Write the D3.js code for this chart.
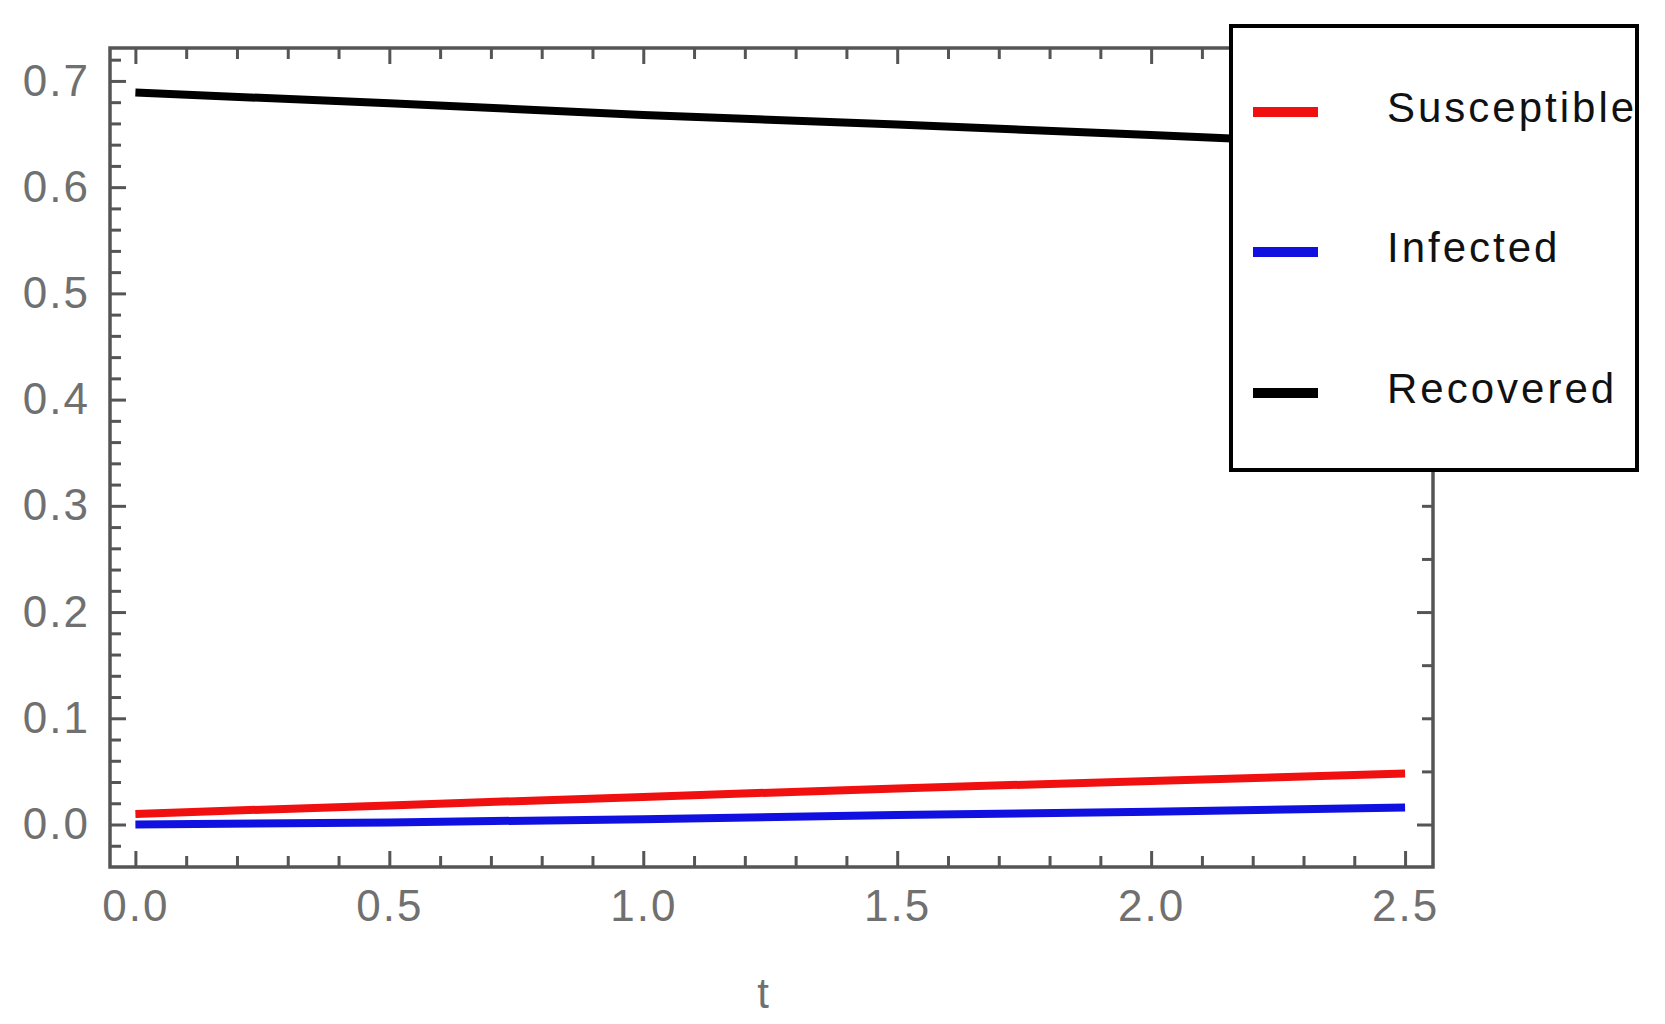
<!DOCTYPE html>
<html>
<head>
<meta charset="utf-8">
<title>SIR</title>
<script src="https://cdn.jsdelivr.net/npm/d3@7"></script>
<style>
html, body { margin: 0; padding: 0; background: #fff; }
svg { display: block; }
.tick text { font-family: "Liberation Sans", Arial, sans-serif; font-size: 44px; fill: #707070; letter-spacing: 2px; }
.tick line { stroke: #555; stroke-width: 3px; }
.legend text { font-family: "Liberation Sans", Arial, sans-serif; font-size: 42px; fill: #111; letter-spacing: 3px; }
</style>
</head>
<body>
<div id="chart"></div>
<script>
// values
const tValues = [0, 0.5, 1.0, 1.5, 2.0, 2.5];
const susceptible = [0.010, 0.018, 0.026, 0.034, 0.041, 0.048];
const infected = [0.000, 0.002, 0.005, 0.009, 0.012, 0.016];
const recovered = [0.689, 0.679, 0.668, 0.659, 0.649, 0.639];
const seriesNames = ["Susceptible", "Infected", "Recovered"];
const seriesColors = ["#f01010", "#1010e0", "#000000"];
const xTicks = [0, 0.5, 1.0, 1.5, 2.0, 2.5];
const yTicks = [0, 0.1, 0.2, 0.3, 0.4, 0.5, 0.6, 0.7];
const xLabel = "t";

const W = 1665, H = 1024;
const pLeft = 110, pRight = 1433, pTop = 48, pBottom = 867;

const svg = d3.select("#chart").append("svg").attr("width", W).attr("height", H);

const x = d3.scaleLinear().domain([-0.05, 2.555]).range([pLeft, pRight]);
const y = d3.scaleLinear().domain([-0.04, 0.731]).range([pBottom, pTop]);

const fmt = d3.format(".1f");
const major = 16, minor = 11;

// minor tick positions
const xMinor = d3.range(0, 2.56, 0.1).filter(v => !xTicks.some(t => Math.abs(t - v) < 1e-6));
const yMinor = d3.range(-0.02, 0.73, 0.02).filter(v => !yTicks.some(t => Math.abs(t - v) < 1e-6));
const rMajor = [0, 0.2, 0.4, 0.6];
const rMinor = d3.range(0.05, 0.73, 0.05).filter(v => !rMajor.some(t => Math.abs(t - v) < 1e-6));

function addAxis(axis, tx, ty) {
    const g = svg.append("g").attr("transform", "translate(" + tx + "," + ty + ")").call(axis);
    g.select(".domain").remove();
    return g;
}

// bottom
addAxis(d3.axisBottom(x).tickValues(xTicks).tickSize(-major).tickPadding(23).tickFormat(fmt), 0, pBottom);
addAxis(d3.axisBottom(x).tickValues(xMinor).tickSize(-minor).tickFormat(""), 0, pBottom);
// top
addAxis(d3.axisTop(x).tickValues(xTicks).tickSize(-major).tickFormat(""), 0, pTop);
addAxis(d3.axisTop(x).tickValues(xMinor).tickSize(-minor).tickFormat(""), 0, pTop);
// left
addAxis(d3.axisLeft(y).tickValues(yTicks).tickSize(-major).tickPadding(20).tickFormat(fmt), pLeft, 0);
addAxis(d3.axisLeft(y).tickValues(yMinor).tickSize(-minor).tickFormat(""), pLeft, 0);
// right
addAxis(d3.axisRight(y).tickValues(rMajor).tickSize(-major).tickFormat(""), pRight, 0);
addAxis(d3.axisRight(y).tickValues(rMinor).tickSize(-minor).tickFormat(""), pRight, 0);

// frame
svg.append("rect")
    .attr("x", pLeft).attr("y", pTop)
    .attr("width", pRight - pLeft).attr("height", pBottom - pTop)
    .attr("fill", "none").attr("stroke", "#555").attr("stroke-width", 3.5);

// curves
svg.append("clipPath").attr("id", "plot")
    .append("rect").attr("x", pLeft).attr("y", pTop).attr("width", pRight - pLeft).attr("height", pBottom - pTop);

const series = [susceptible, infected, recovered];
const line = d3.line().x((d, i) => x(tValues[i])).y(d => y(d));
svg.append("g").attr("clip-path", "url(#plot)")
    .selectAll("path").data(series).enter().append("path")
    .attr("d", line)
    .attr("fill", "none")
    .attr("stroke", (d, i) => seriesColors[i])
    .attr("stroke-width", 8);

// axis label
svg.append("text")
    .attr("x", 763).attr("y", 1008)
    .attr("text-anchor", "middle")
    .style("font-family", "Liberation Sans, Arial, sans-serif")
    .style("font-size", "42px")
    .style("fill", "#707070")
    .text(xLabel);

// legend
const lg = svg.append("g").attr("class", "legend");
lg.append("rect")
    .attr("x", 1231).attr("y", 26).attr("width", 406).attr("height", 444)
    .attr("fill", "#fff").attr("stroke", "#000").attr("stroke-width", 4);
const rowY = [112, 252, 393];
const items = lg.selectAll("g.item").data(seriesNames).enter().append("g").attr("class", "item");
items.append("line")
    .attr("x1", 1253).attr("x2", 1318)
    .attr("y1", (d, i) => rowY[i]).attr("y2", (d, i) => rowY[i])
    .attr("stroke", (d, i) => seriesColors[i]).attr("stroke-width", 10);
items.append("text")
    .attr("x", 1387).attr("y", (d, i) => rowY[i] + 10)
    .text(d => d);
</script>
</body>
</html>
